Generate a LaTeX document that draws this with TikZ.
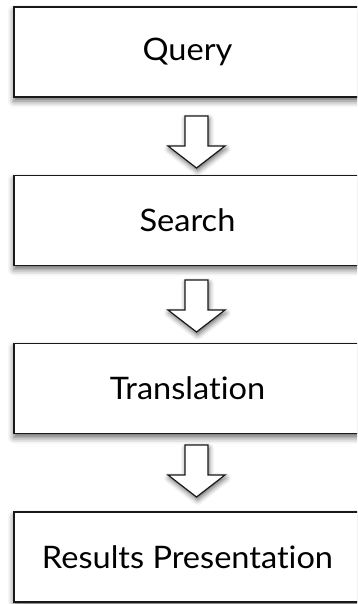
\documentclass[tikz,border=0pt]{standalone}
\usepackage{fontspec}
\setmainfont{Lato}[Ligatures={NoCommon}, FakeStretch=1.05]
\usetikzlibrary{shadows.blur}
\begin{document}
\begin{tikzpicture}[x=1pt,y=-1pt,
  stage/.style={draw=black!90, line width=1.4pt, fill=white,
    minimum width=347pt, minimum height=90pt, inner sep=0pt,
    font=\fontsize{31}{36}\selectfont,
    blur shadow={shadow xshift=0pt, shadow yshift=-4pt,
      shadow blur radius=6pt, shadow opacity=60}},
  flow/.style={draw=black!90, line width=1.2pt, fill=white, line join=miter,
    blur shadow={shadow xshift=1pt, shadow yshift=-3pt,
      shadow blur radius=5pt, shadow opacity=60}}]
\useasboundingbox (0,0) rectangle (357,604);
\clip (0,0) rectangle (357,604);

% the four stages
\node[stage] (query)   at (187.5,52)    {Query};
\node[stage] (search)  at (187.5,220.5) {Search};
\node[stage] (transl)  at (187.5,388.5) {Translation};
\node[stage] (results) at (187.5,557)   {Results Presentation};

% block arrows between stages, anchored at their tips
\coordinate (t1) at (196.5,168);
\coordinate (t2) at (196.5,332);
\coordinate (t3) at (196.5,497);
\foreach \t in {t1,t2,t3}{
  \draw[flow] (\t) -- ++(-28.5,-22) -- ++(17,0) -- ++(0,-30) -- ++(23,0)
    -- ++(0,30) -- ++(17,0) -- cycle;
}
\end{tikzpicture}
\end{document}
